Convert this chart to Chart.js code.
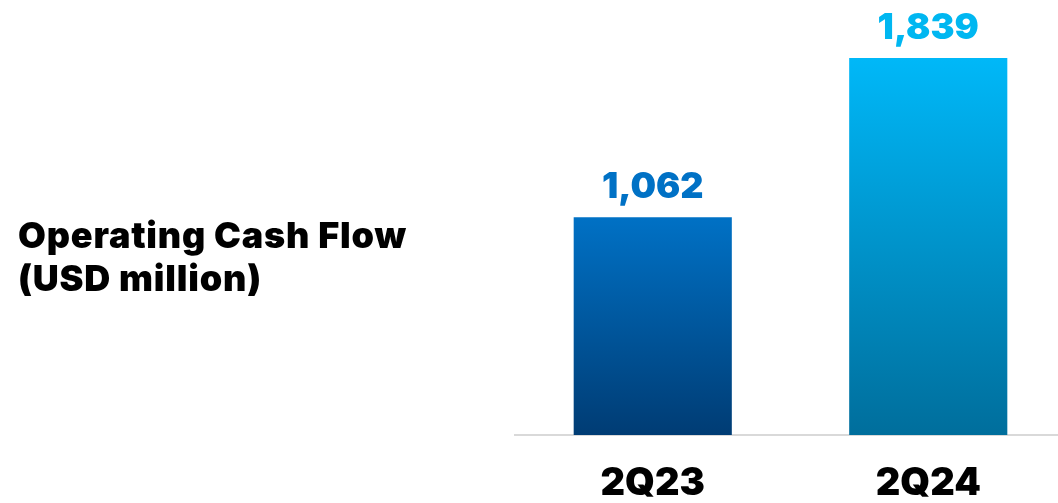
<!DOCTYPE html>
<html>
<head>
<meta charset="utf-8">
<script src="https://cdn.jsdelivr.net/npm/chart.js@4.4.1/dist/chart.umd.min.js"></script>
<style>
  html, body { margin: 0; padding: 0; background: #fff; overflow: hidden; }
  #wrap { position: relative; width: 1066px; height: 503px; }
</style>
</head>
<body>
<div id="wrap"><canvas id="cashChart"></canvas></div>
<script>
// Operating cash flow, USD million
var quarters = ['2Q23', '2Q24'];
var cashFlow = [1062, 1839];
var valueLabels = ['1,062', '1,839'];
var titleLines = ['Operating Cash Flow', '(USD million)'];

var barTop = ['#0071c5', '#00b8f8'];
var barBottom = ['#003c74', '#006e9c'];
var labelColor = ['#0071c5', '#00b7f1'];
var FONT = 'Inter, "Noto Sans", sans-serif';

// vertical gradient from the top of each bar down to the axis
function barFill(ctx) {
    var chart = ctx.chart;
    var area = chart.chartArea;
    var i = ctx.dataIndex;
    if (!area) return barTop[i];
    var top = chart.scales.y.getPixelForValue(cashFlow[i]);
    var g = chart.ctx.createLinearGradient(0, top, 0, area.bottom);
    g.addColorStop(0, barTop[i]);
    g.addColorStop(1, barBottom[i]);
    return g;
}

// left-hand caption
var sideTitle = {
    id: 'sideTitle',
    afterDraw: function (chart) {
        var c = chart.ctx;
        c.save();
        c.fillStyle = '#000';
        c.font = '900 36px ' + FONT;
        c.letterSpacing = '0.8px';
        c.textAlign = 'left';
        c.textBaseline = 'alphabetic';
        c.fillText(titleLines[0], 18, 248);
        c.fillText(titleLines[1], 18, 291);
        c.restore();
    }
};

// numbers above the bars
var barValues = {
    id: 'barValues',
    afterDatasetsDraw: function (chart) {
        var c = chart.ctx;
        var meta = chart.getDatasetMeta(0);
        c.save();
        c.font = '900 36px ' + FONT;
        c.textAlign = 'center';
        c.textBaseline = 'alphabetic';
        meta.data.forEach(function (bar, i) {
            c.fillStyle = labelColor[i];
            c.fillText(valueLabels[i], bar.x, bar.y - 19);
        });
        c.restore();
    }
};

var ctx = document.getElementById('cashChart').getContext('2d');
var chart = new Chart(ctx, {
    type: 'bar',
    data: {
        labels: quarters,
        datasets: [{
            data: cashFlow,
            backgroundColor: barFill,
            borderWidth: 0,
            categoryPercentage: 1,
            barPercentage: 0.574
        }]
    },
    options: {
        responsive: true,
        maintainAspectRatio: false,
        animation: false,
        events: [],
        layout: { padding: { left: 515, top: 25, right: 0, bottom: 0 } },
        plugins: {
            legend: { display: false },
            tooltip: { enabled: false }
        },
        scales: {
            x: {
                grid: { display: false, drawTicks: false },
                border: { display: true, color: '#d9d9d9', width: 2 },
                ticks: {
                    color: '#000',
                    padding: 30,
                    font: { family: FONT, size: 38, weight: '900', lineHeight: 1 }
                },
                // keep the axis strip short so the baseline sits low
                afterFit: function (scale) { scale.height = 68; }
            },
            y: {
                display: false,
                min: 0,
                max: 2000
            }
        }
    },
    plugins: [sideTitle, barValues]
});
</script>
</body>
</html>
